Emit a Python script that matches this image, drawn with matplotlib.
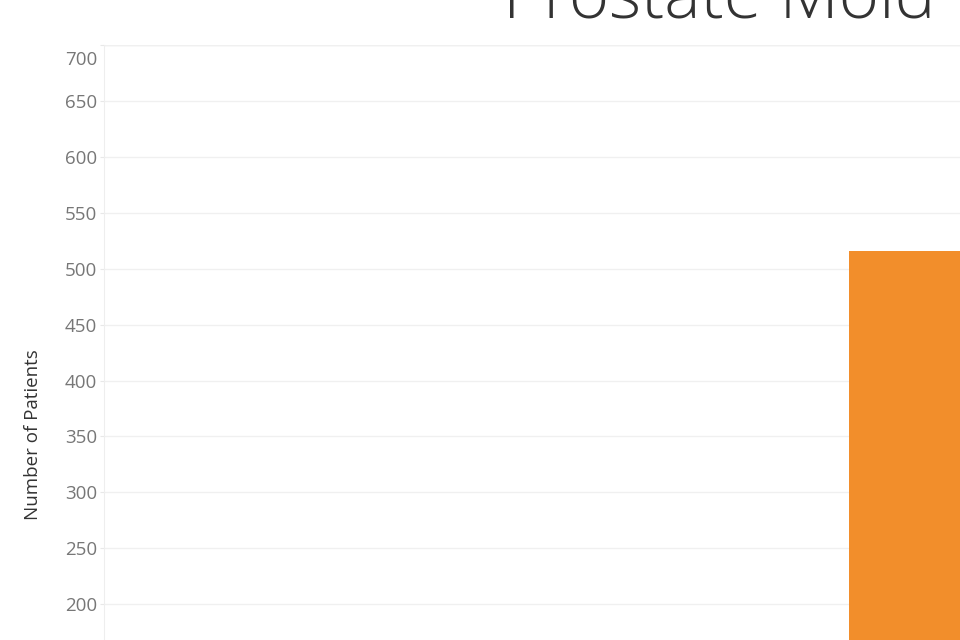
import matplotlib.pyplot as plt

# data
categories = ['Prostate Mold']
patients = [516]
y_ticks = [200, 250, 300, 350, 400, 450, 500, 550, 600, 650, 700]

plt.rcParams['font.family'] = ['Open Sans', 'DejaVu Sans']

fig = plt.figure(figsize=(9.6, 6.4), dpi=100)
# the view is cropped: axes runs off the right and bottom edges
ax = fig.add_axes([104/960, 0, 1 - 104/960, 1 - 45/640])

ax.bar(range(len(categories)), patients, width=0.8, color='#f28e2b', zorder=3)

ax.set_ylim(168, 700)
ax.set_xlim(-5.1, 0.3)
ax.set_yticks(y_ticks)
ax.set_yticklabels([str(v) for v in y_ticks[:-1]] + [''])
ax.set_xticks([])
ax.grid(axis='y', color='#f0f0f0', linewidth=1, zorder=0)
ax.tick_params(axis='y', length=3, color='#e8e8e8', labelsize=13.5,
               labelcolor='#777777', pad=2)
for s in ['top', 'right', 'bottom']:
    ax.spines[s].set_visible(False)
ax.spines['left'].set_color('#eeeeee')
ax.axhline(y_ticks[-1], color='#eeeeee', linewidth=1, zorder=1)

# top label sits a bit under the axis edge
ax.annotate(str(y_ticks[-1]), xy=(0, y_ticks[-1]), xycoords=('axes fraction', 'data'),
            xytext=(-5, -10.5), textcoords='offset points', ha='right', va='center',
            fontsize=13.5, color='#777777')

fig.text(33/960, 1 - 435/640, 'Number of Patients', rotation=90,
         ha='center', va='center', fontsize=13.5, color='#333333')

# title is cut off by the top of the view
fig.text(719/960, 1 - 17/640, 'Prostate Mold', ha='center', va='baseline',
         fontsize=49.5, color='#333333', fontweight='light')

fig.savefig('out.png', dpi=100)
